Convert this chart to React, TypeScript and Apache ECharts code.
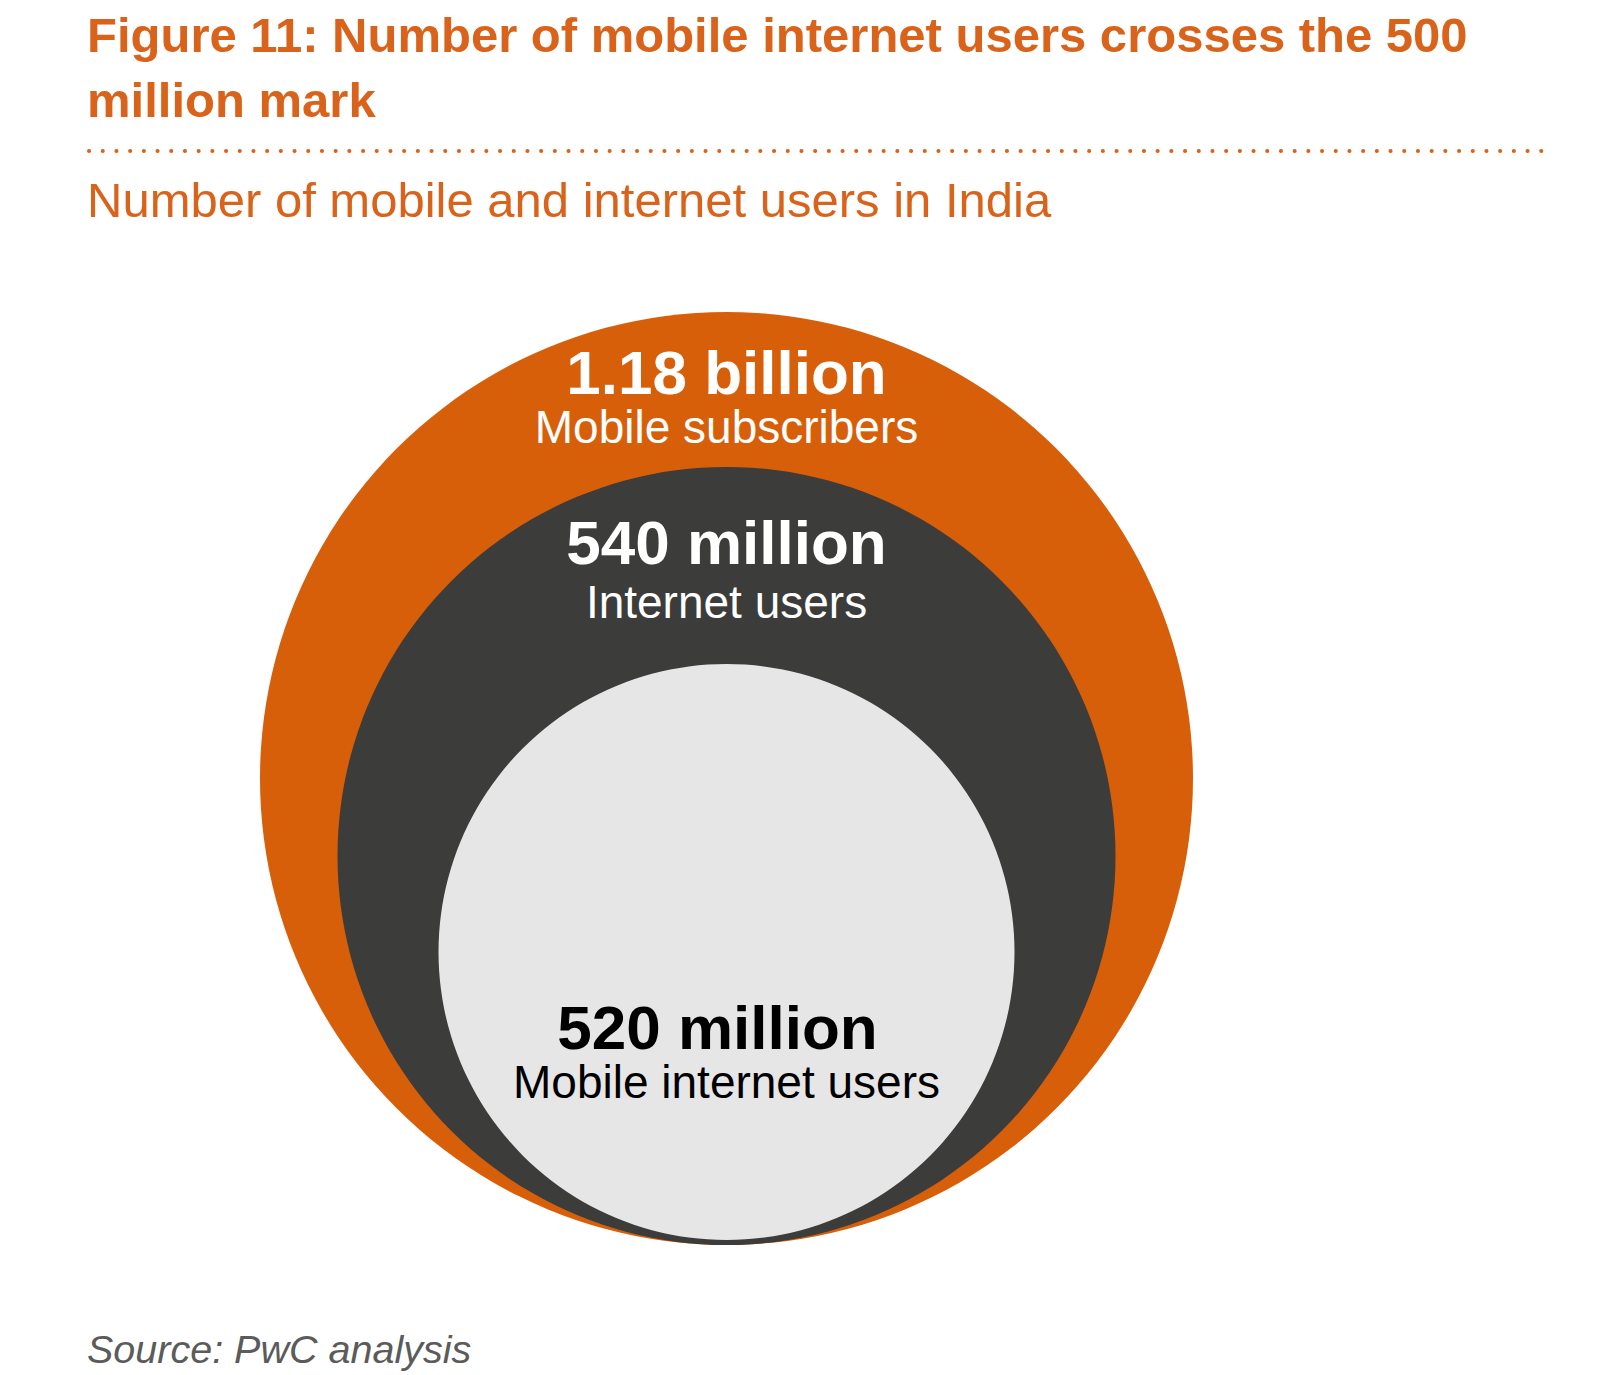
import React, { useEffect, useRef } from "react";
import * as echarts from "echarts";

// ---- content ----
const titleLines = ["Figure 11: Number of mobile internet users crosses the 500", "million mark"];
const subtitle = "Number of mobile and internet users in India";
const source = "Source: PwC analysis";

// circles (outer -> inner)
const valueLabels = ["1.18 billion", "540 million", "520 million"];
const descLabels = ["Mobile subscribers", "Internet users", "Mobile internet users"];
// diagram geometry: circle diameter and height of its centre above the common base (px)
const diameters = [933, 778, 576];
const centreHeights = [467.5, 390, 294];
const fillColors = ["#D85F09", "#3C3C3B", "#E6E6E6"];
const textColors = ["#FFFFFF", "#FFFFFF", "#000000"];

const ORANGE = "#D9631A";
const FONT = "'Liberation Sans', Arial, Helvetica, sans-serif";

export default function App() {
  const ref = useRef<HTMLDivElement>(null);

  useEffect(() => {
    document.body.style.margin = "0";
    const chart = echarts.init(ref.current!, null, { renderer: "svg" });

    const labelOffsets = [
      [0, -383],
      [0, -287],
      [0, 98.5],
    ];
    const valueLH = [62, 66, 63];
    const descLH = [46, 54, 46];
    const valuePad = [
      [0, 0, 0, 0],
      [0, 0, 0, 0],
      [0, 18, 0, 0],
    ];

    const data = valueLabels.map((v, i) => ({
      name: descLabels[i],
      value: [0, centreHeights[i]],
      symbolSize: diameters[i],
      itemStyle: { color: fillColors[i], opacity: 1 },
      label: {
        show: true,
        position: "inside",
        offset: labelOffsets[i],
        formatter: `{v|${v}}\n{d|${descLabels[i]}}`,
        rich: {
          v: {
            fontFamily: FONT,
            fontSize: 62,
            fontWeight: "bold",
            color: textColors[i],
            lineHeight: valueLH[i],
            padding: valuePad[i],
            align: "center",
          },
          d: {
            fontFamily: FONT,
            fontSize: 46,
            color: textColors[i],
            lineHeight: descLH[i],
            align: "center",
          },
        },
      },
    }));

    chart.setOption({
      animation: false,
      backgroundColor: "#FFFFFF",
      grid: { left: 226.5, top: 246, width: 1000, height: 1000 },
      xAxis: { type: "value", min: -500, max: 500, show: false },
      yAxis: { type: "value", min: 0, max: 1000, show: false },
      series: [
        {
          type: "scatter",
          symbol: "circle",
          data,
          silent: true,
          emphasis: { disabled: true },
        },
      ],
      graphic: [
        {
          type: "text",
          left: 87,
          top: 2,
          style: {
            text: titleLines.join("\n"),
            fontFamily: FONT,
            fontSize: 49,
            fontWeight: "bold",
            fill: ORANGE,
            lineHeight: 65.5,
          },
        },
        {
          type: "line",
          shape: { x1: 89, y1: 151, x2: 1552, y2: 151 },
          style: { stroke: ORANGE, lineWidth: 4, lineCap: "round", lineDash: [0.1, 13.6] },
        },
        {
          type: "text",
          left: 87,
          top: 175,
          style: {
            text: subtitle,
            fontFamily: FONT,
            fontSize: 49,
            fill: ORANGE,
          },
        },
        {
          type: "text",
          left: 87,
          top: 1329,
          style: {
            text: source,
            fontFamily: FONT,
            fontSize: 39.5,
            fontStyle: "italic",
            fill: "#5B5B5B",
          },
        },
      ],
    });

    return () => chart.dispose();
  }, []);

  return <div ref={ref} style={{ width: 1600, height: 1375 }} />;
}
